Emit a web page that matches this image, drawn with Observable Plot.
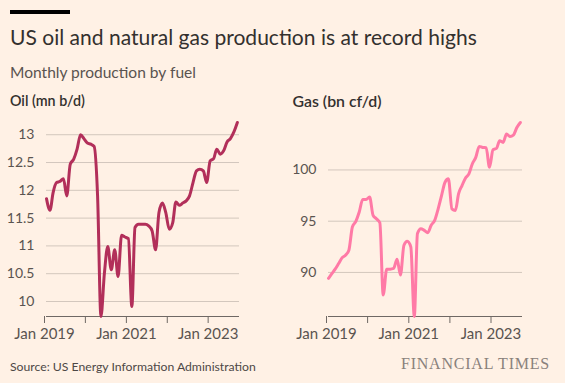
<!DOCTYPE html>
<html>
<head>
<meta charset="utf-8">
<script src="https://cdn.jsdelivr.net/npm/d3@7"></script>
<script src="https://cdn.jsdelivr.net/npm/@observablehq/plot@0.6"></script>
<style>
  html, body { margin: 0; padding: 0; background: #FFF1E5; }
  #root { position: relative; width: 565px; height: 383px; overflow: hidden; background: #FFF1E5; font-family: Lato, "Noto Sans", sans-serif; }
  .t { position: absolute; white-space: nowrap; line-height: 1.2; margin: 0; }
  #bar { position: absolute; left: 10px; top: 10px; width: 60px; height: 4px; background: #000; }
  #title { left: 10px; font-size: 19px; color: #33302E; }
  #subtitle { left: 10px; font-size: 16px; color: #5a5450; }
  .ptitle { font-size: 14px; color: #33302E; font-weight: 600; }
  #oilTitle { left: 10px; }
  #gasTitle { left: 292.5px; }
  #oilWrap { position: absolute; left: 0; top: 110px; width: 262px; height: 240px; }
  #oilWrap svg { position: absolute; left: 0; top: 0; }
  #gasWrap { position: absolute; left: 270px; top: 110px; width: 270px; height: 240px; }
  #gasWrap svg { position: absolute; left: 0; top: 0; }
  #srcWrap { position: absolute; left: 10px; top: 355px; width: 300px; height: 18px; overflow: hidden; }
  #source { left: 0; font-size: 13px; color: #4d4845; }
  #ft { font-family: "Liberation Serif", "DejaVu Serif", serif; font-size: 16px; color: #8a817c; left: 401px; }
</style>
</head>
<body>
<div id="root">
  <div id="bar"></div>
  <div class="t" id="title">US oil and natural gas production is at record highs</div>
  <div class="t" id="subtitle">Monthly production by fuel</div>
  <div class="t ptitle" id="oilTitle">Oil (mn b/d)</div>
  <div class="t ptitle" id="gasTitle">Gas (bn cf/d)</div>
  <div id="oilWrap"></div>
  <div id="gasWrap"></div>
  <div id="srcWrap"><div class="t" id="source">Source: US Energy Information Administration</div></div>
  <div class="t" id="ft">FINANCIAL TIMES</div>
</div>
<script>
// ---------- data ----------
const startMonth = "2019-01-01";
const endMonth = "2023-09-01";
const oil = [11.85, 11.64, 11.96, 12.14, 12.16, 12.21, 11.90, 12.47, 12.56, 12.74,
             13.00, 12.93, 12.85, 12.83, 12.79, 11.90, 9.73, 10.51, 10.99, 10.57,
             10.93, 10.45, 11.19, 11.16, 11.13, 9.91, 11.33, 11.39, 11.39, 11.39,
             11.36, 11.27, 10.93, 11.60, 11.77, 11.60, 11.30, 11.42, 11.79, 11.73,
             11.77, 11.81, 11.90, 12.14, 12.35, 12.38, 12.35, 12.14, 12.53, 12.57,
             12.74, 12.65, 12.71, 12.87, 12.93, 13.05, 13.22];
const gas = [89.42, 89.90, 90.32, 90.87, 91.42, 91.68, 92.17, 94.43, 94.98, 95.89,
             97.12, 97.12, 97.35, 95.57, 95.24, 94.85, 87.80, 90.32, 90.32, 90.39,
             91.29, 89.74, 92.65, 93.04, 92.49, 85.70, 93.79, 94.27, 94.10, 93.88,
             94.60, 95.08, 96.21, 97.50, 98.80, 99.13, 96.21, 96.05, 97.67, 98.48,
             99.19, 99.61, 100.58, 101.23, 102.30, 102.20, 102.17, 100.26, 101.97, 102.10,
             102.85, 102.69, 103.50, 103.27, 103.40, 104.14, 104.63];
const oilTicks = [10, 10.5, 11, 11.5, 12, 12.5, 13];
const gasTicks = [90, 95, 100];
const yearTicks = ["2019-01-01", "2020-01-01", "2021-01-01", "2022-01-01", "2023-01-01"];
const labelledYears = [2019, 2021, 2023];
const xDomainEnd = "2023-09-20";

// ---------- styles ----------
const oilColor = "#b22f5a";
const gasColor = "#ff7aa6";
const gridColor = "#d3c7bd";
const axisColor = "#6f6864";
const labelColor = "#5a5450";
const fontFamily = 'Lato, "Noto Sans", sans-serif';

const months = d3.utcMonth.range(new Date(startMonth), d3.utcMonth.offset(new Date(endMonth), 1));
const oilData = months.map((d, i) => ({date: d, value: oil[i]}));
const gasData = months.map((d, i) => ({date: d, value: gas[i]}));
const yearDates = yearTicks.map(d => new Date(d));
const xDomain = [new Date(startMonth), new Date(xDomainEnd)];
const fmtX = d => labelledYears.includes(d.getUTCFullYear()) ? "Jan " + d.getUTCFullYear() : "";

function panel(data, ticks, opts) {
  const ext = d3.extent(data, d => d.value);
  return Plot.plot({
    width: opts.width, height: 240,
    marginLeft: opts.marginLeft, marginRight: opts.marginRight,
    marginTop: 12, marginBottom: 34,
    style: {background: "transparent", fontFamily, fontSize: "14px", overflow: "visible"},
    x: {type: "utc", domain: xDomain},
    y: {domain: ext},
    marks: [
      Plot.gridY(ticks, {stroke: gridColor, strokeOpacity: 1, strokeWidth: 1}),
      Plot.axisY(ticks, {tickSize: 0, tickPadding: 12, tickFormat: d => String(d), fill: labelColor, label: null}),
      Plot.ruleY([ext[0]], {stroke: axisColor, strokeWidth: 1}),
      Plot.axisX(yearDates, {tickSize: 7, tickPadding: 5, tickFormat: fmtX, stroke: axisColor, fill: labelColor, label: null, dx: -2, fontSize: 15}),
      Plot.line(data, {x: "date", y: "value", stroke: opts.color, strokeWidth: 3, curve: "monotone-x", strokeLinejoin: "round", strokeLinecap: "round"})
    ]
  });
}

document.getElementById("oilWrap").appendChild(panel(oilData, oilTicks, {width: 250, marginLeft: 46, marginRight: 11, color: oilColor}));
document.getElementById("gasWrap").appendChild(panel(gasData, gasTicks, {width: 260, marginLeft: 58, marginRight: 8, color: gasColor}));

// ---------- text fitting ----------
function fit(id, targetWidth, baseline) {
  const el = document.getElementById(id);
  const w = el.getBoundingClientRect().width;
  const fs = parseFloat(getComputedStyle(el).fontSize) * targetWidth / w;
  el.style.fontSize = fs + "px";
  el.style.top = (baseline - 0.987 * fs) + "px";
}
fit("title", 467, 44.5);
fit("subtitle", 186, 78);
fit("oilTitle", 75, 106.5);
fit("gasTitle", 89, 106.5);
fit("source", 246, 17);
(function () {
  const el = document.getElementById("ft");
  const w = el.getBoundingClientRect().width;
  el.style.letterSpacing = ((149 - w) / 15) + "px";
  el.style.top = (368 - 0.891 * 16) + "px";
})();
</script>
</body>
</html>
